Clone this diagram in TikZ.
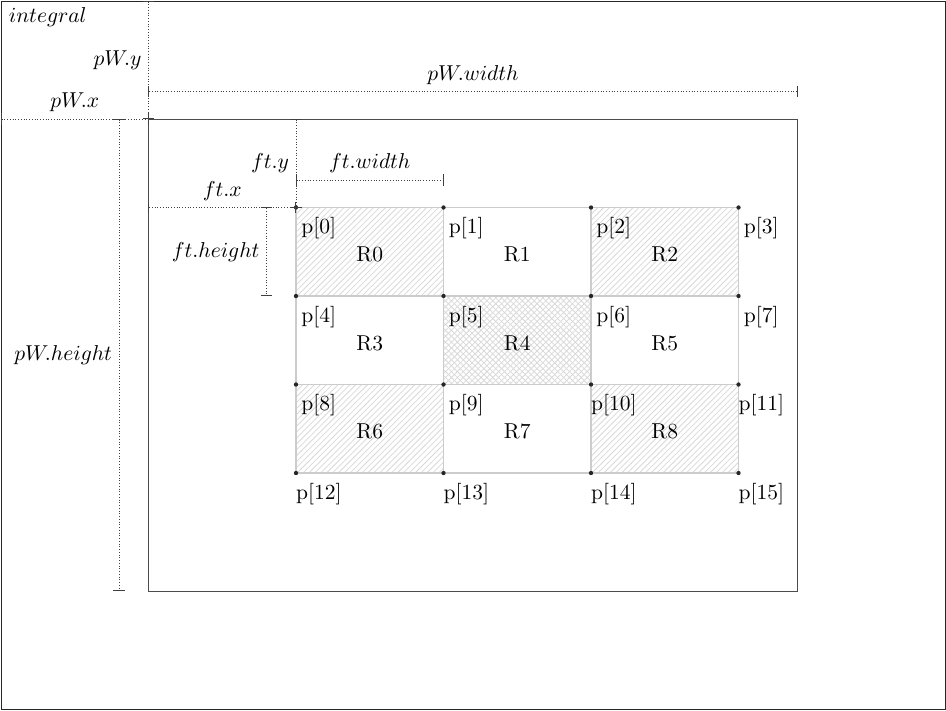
\documentclass[tikz,border=0pt]{standalone}
\usepackage{tikz}
\usetikzlibrary{arrows.meta,patterns,calc}
\tikzset{>=latex}
\tikzset{
	every node/.style={font=\fontsize{10.95}{13.6}\selectfont},
	dimline/.style={densely dotted, draw=black!75, {Bar[width=6pt]}-{Bar[width=6pt]}},
	cell/.style={draw=black!20, line width=0.6pt},
	hatch/.style={cell, pattern=north east lines, pattern color=black!15},
	cross/.style={cell, pattern=crosshatch, pattern color=black!15},
}

\begin{document}
\begin{tikzpicture}[x=1pt,y=-1pt]
		\useasboundingbox (-0.5,-0.5) rectangle (480.5,361);

		% Frames
		\coordinate (I0) at (0,0);
		\coordinate (I1) at (480,360);
		\draw[black!85] (I0) rectangle (I1);
		\node[anchor=north west] (integral) at (0.5,0) {$integral$};
		%
		\coordinate (W0) at (75,60);
		\coordinate (W1) at (405,300);
		\draw[black!70] (W0) rectangle (W1);

		% Points
		\foreach \j in {0,...,3} {
			\foreach \i in {0,...,3} {
				\pgfmathtruncatemacro\k{4*\j+\i}
				\coordinate (p\k) at (150+75*\i, 105+45*\j);
			}
		}

		% Regions
		\foreach \r/\a/\b/\s in {0/0/5/hatch, 1/1/6/cell, 2/2/7/hatch, 3/4/9/cell, 4/5/10/cross,
			5/6/11/cell, 6/8/13/hatch, 7/9/14/cell, 8/10/15/hatch} {
			\draw[\s] (p\a) rectangle (p\b);
			\node[yshift=-1.5pt] (R\r) at ($(p\a)!0.5!(p\b)$) {R\r};
		}

		% Dots and point labels
		\foreach \k in {0,...,15} {
			\fill[black!85] (p\k) circle (1.1pt);
			\node[xshift=11.6pt, yshift=-10.5pt] (lp\k) at (p\k) {p[\k]};
		}

		% Dimensions of pW
		\coordinate (pWx0) at (0,60);
		\draw[dimline] (pWx0) -- (W0) node[midway, above] (pWx) {$pW.x$};
		\coordinate (pWy0) at (75,0);
		\draw[dimline] (pWy0) -- (W0) node[midway, left] (pWy) {$pW.y$};
		\coordinate (pWw0) at (75,46);
		\coordinate (pWw1) at (405,46);
		\draw[dimline] (pWw0) -- (pWw1) node[midway, above] (pWw) {$pW.width$};
		\coordinate (pWh0) at (60,60);
		\coordinate (pWh1) at (60,300);
		\draw[dimline] (pWh0) -- (pWh1) node[midway, left] (pWh) {$pW.height$};

		% Dimensions of ft
		\coordinate (ftx0) at (75,105);
		\draw[dimline] (ftx0) -- (p0) node[midway, above] (ftx) {$ft.x$};
		\coordinate (fty0) at (150,60);
		\draw[dimline] (fty0) -- (p0) node[midway, left] (fty) {$ft.y$};
		\coordinate (ftw0) at (150,91);
		\coordinate (ftw1) at (225,91);
		\draw[dimline] (ftw0) -- (ftw1) node[midway, above] (ftw) {$ft.width$};
		\coordinate (fth0) at (135,105);
		\coordinate (fth1) at (135,150);
		\draw[dimline] (fth0) -- (fth1) node[midway, left] (fth) {$ft.height$};
	\end{tikzpicture}
\end{document}
